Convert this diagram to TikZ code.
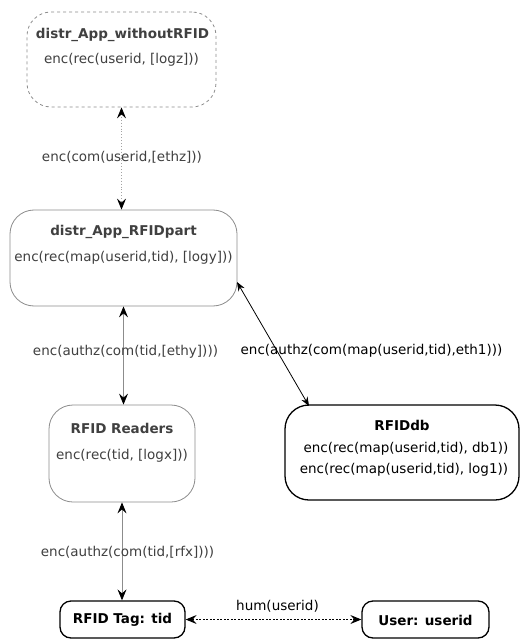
\documentclass[tikz,border=0pt]{standalone}
\usepackage{fontspec}
\setmainfont{DejaVu Sans}
\usetikzlibrary{arrows.meta}
\definecolor{txtgray}{HTML}{404040}
\definecolor{linegray}{HTML}{8C8C8C}
\tikzset{
  tip/.tip={Stealth[length=11pt,width=9pt,inset=4pt,color=black]},
  stip/.tip={Stealth[length=9pt,width=7pt,inset=3pt,color=black]},
}
\begin{document}
\begin{tikzpicture}[x=1pt,y=-1pt,
  box/.style={draw, rounded corners=24pt, inner sep=0pt, line width=0.8pt},
  tbox/.style={draw, rounded corners=11pt, inner sep=0pt, line width=1.3pt},
  lbl/.style={font=\fontsize{13.5}{16}\selectfont, inner sep=0pt},
  ttl/.style={font=\fontsize{13.5}{16}\selectfont\bfseries, inner sep=0pt}]
\useasboundingbox (0,0) rectangle (520,639);
\fill[white] (0,0) rectangle (520,639);
% nodes
\node[box, dashed, draw=linegray, minimum width=189pt, minimum height=95pt] (top) at (121.5,59.5) {};
\node[ttl, text=txtgray] (topT) at (122.5,35) {distr\_App\_withoutRFID};
\node[lbl, text=txtgray] (topL) at (121.5,60) {enc(rec(userid, [logz]))};

\node[box, draw=linegray, minimum width=227pt, minimum height=96pt] (part) at (123.5,258) {};
\node[ttl, text=txtgray] (partT) at (123.5,232) {distr\_App\_RFIDpart};
\node[lbl, text=txtgray] (partL) at (123.5,258) {enc(rec(map(userid,tid), [logy]))};

\node[box, draw=linegray, minimum width=146pt, minimum height=97pt] (read) at (122,453.5) {};
\node[ttl, text=txtgray] (readT) at (122,428) {RFID Readers};
\node[lbl, text=txtgray] (readL) at (122,456) {enc(rec(tid, [logx]))};

\node[box, line width=1.3pt, minimum width=234pt, minimum height=95pt] (db) at (402,452.5) {};
\node[ttl] (dbT) at (402,425) {RFIDdb};
\node[lbl] (dbL1) at (406,449) {enc(rec(map(userid,tid), db1))};
\node[lbl] (dbL2) at (404,470) {enc(rec(map(userid,tid), log1))};

\node[tbox, minimum width=125pt, minimum height=37pt] (tag) at (122.5,619.5) {};
\node[ttl] (tagT) at (122.5,620) {RFID Tag: tid};
\node[tbox, minimum width=127pt, minimum height=37pt] (user) at (425.5,619.5) {};
\node[ttl] (userT) at (425.5,620) {User: userid};

% connectors
\draw[{tip}-{tip}, linegray!80, dotted, line width=0.9pt] (top.south) -- (top.south |- part.north);
\node[lbl, text=txtgray] (e1) at (122,157) {enc(com(userid,[ethz]))};

\draw[{tip}-{tip}, linegray, line width=0.9pt] (part.south) -- (part.south |- read.north);
\node[lbl, text=txtgray] (e2) at (125.5,352) {enc(authz(com(tid,[ethy])))};

\draw[{tip}-{tip}, linegray, line width=0.9pt] (read.south) -- (read.south |- tag.north);
\node[lbl, text=txtgray] (e3) at (127.5,552) {enc(authz(com(tid,[rfx])))};

\coordinate (d1) at (237,282);
\coordinate (d2) at (309,406);
\draw[{stip}-{stip}, line width=0.8pt] (d1) -- (d2);
\node[lbl] (e4) at (371.5,351) {enc(authz(com(map(userid,tid),eth1)))};

\draw[{tip}-{tip}, dash pattern=on 2pt off 1.5pt, line width=0.9pt] (tag.east) -- (user.west);
\node[lbl] (e5) at (277.5,606) {hum(userid)};
\end{tikzpicture}
\end{document}
